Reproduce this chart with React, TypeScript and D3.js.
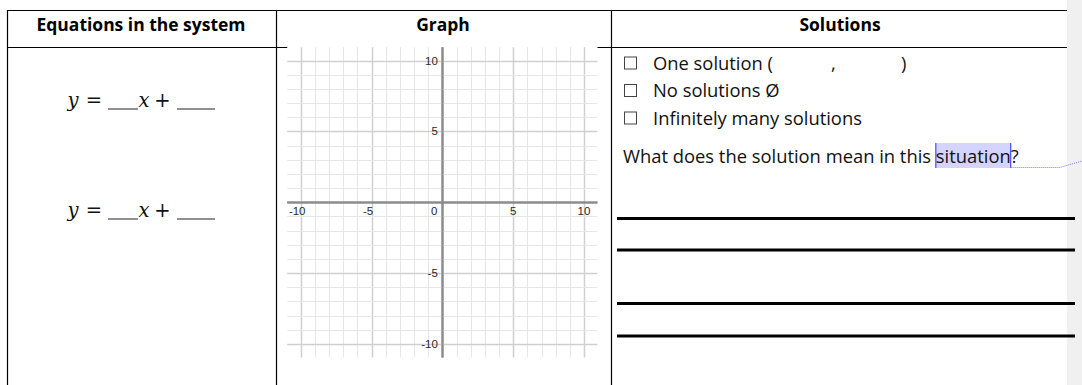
import * as d3 from "d3";
import {useEffect, useRef} from "react";

// table content
const headers = ["Equations in the system", "Graph", "Solutions"];
const equationRows = ["eq1", "eq2"];
const choices = ["One solution (", "No solutions Ø", "Infinitely many solutions"];
const question = "What does the solution mean in this ";
const highlighted = "situation";
const answerLines = [0, 1, 2, 3];

// graph content
const gridValues = d3.range(-10, 11);
const xTickValues = [-10, -5, 0, 5, 10];
const yTickValues = [-10, -5, 5, 10];

const W = 1082, H = 385;
const bodyFont = "'Open Sans', Lato, sans-serif";

const App = () => {
    const ref = useRef<SVGSVGElement | null>(null);

    useEffect(() => {
        const svg = d3.select(ref.current);
        svg.selectAll("*").remove();

        // measure a string so text can be sized to the widths seen in the sheet
        const fitSize = (txt: string, weight: number, target: number) => {
            const t = svg.append("text").attr("font-family", bodyFont)
                .attr("font-weight", weight).attr("font-size", 20).text(txt);
            const w = (t.node() as SVGTextElement).getComputedTextLength();
            t.remove();
            return 20 * target / w;
        };
        const headSize = fitSize(headers[0], 700, 209);
        const bodySize = fitSize(question + highlighted + "?", 400, 396);

        svg.append("rect").attr("width", W).attr("height", H).attr("fill", "#fff");
        // grey page margin on the right
        svg.append("rect").attr("x", 1067).attr("width", W - 1067).attr("height", H).attr("fill", "#f0f0f0");

        // table borders
        const cols = [7.5, 276.5, 611.5];
        svg.selectAll(".hline").data([10.5, 47.5]).enter().append("line")
            .attr("x1", 7).attr("x2", 1067).attr("y1", d => d).attr("y2", d => d)
            .attr("stroke", "#000").attr("stroke-width", 1.2);
        svg.selectAll(".vline").data(cols).enter().append("line")
            .attr("x1", d => d).attr("x2", d => d).attr("y1", 10).attr("y2", H)
            .attr("stroke", "#000").attr("stroke-width", 1.2);

        const headerX = [141, 443, 840];
        svg.selectAll(".hdr").data(headers).enter().append("text")
            .attr("x", (d, i) => headerX[i]).attr("y", 30.5)
            .attr("text-anchor", "middle")
            .attr("font-family", bodyFont)
            .attr("font-weight", 700).attr("font-size", headSize)
            .attr("fill", "#000")
            .text(d => d);

        // equations  y = ___x + ____
        const eqBase = [106.5, 216.5];
        const eqFont = "'DejaVu Serif', 'Liberation Serif', serif";
        equationRows.forEach((r, i) => {
            const g = svg.append("g").attr("transform", `translate(0,${eqBase[i]})`)
                .attr("font-family", eqFont).attr("font-size", 19.5).attr("fill", "#111")
                .attr("text-anchor", "middle");
            g.append("text").attr("x", 73).attr("font-style", "italic").text("y");
            g.append("text").attr("x", 94).text("=");
            g.append("line").attr("x1", 108).attr("x2", 138).attr("y1", 2.5).attr("y2", 2.5)
                .attr("stroke", "#222").attr("stroke-width", 1);
            g.append("text").attr("x", 144).attr("font-style", "italic").text("x");
            g.append("text").attr("x", 162.5).text("+");
            g.append("line").attr("x1", 177).attr("x2", 215).attr("y1", 2.5).attr("y2", 2.5)
                .attr("stroke", "#222").attr("stroke-width", 1);
        });

        // graph picture
        const x = d3.scaleLinear().domain([-10, 10]).range([300.7, 584]);
        const y = d3.scaleLinear().domain([-10, 10]).range([344, 60.6]);
        const ext = 10.95;
        const graph = svg.append("g");
        graph.append("rect")
            .attr("x", x(-ext)).attr("y", y(ext) - 1)
            .attr("width", x(ext) - x(-ext)).attr("height", y(-ext) - y(ext) + 2)
            .attr("fill", "#fff");

        const lineColor = (v: number) => v === 0 ? "#8c8c8c" : v % 5 === 0 ? "#d0d0d0" : "#e6e6e6";
        const lineWidth = (v: number) => v === 0 ? 2 : v % 5 === 0 ? 1.5 : 1;
        const order = [...gridValues].sort((a, b) => (a % 5 === 0 ? 1 : 0) - (b % 5 === 0 ? 1 : 0));

        graph.selectAll(".gx").data(order).enter().append("line")
            .attr("x1", d => Math.round(x(d)) + 0.5).attr("x2", d => Math.round(x(d)) + 0.5)
            .attr("y1", y(ext)).attr("y2", y(-ext))
            .attr("stroke", d => lineColor(d)).attr("stroke-width", d => lineWidth(d));
        graph.selectAll(".gy").data(order).enter().append("line")
            .attr("y1", d => Math.round(y(d)) + 0.5).attr("y2", d => Math.round(y(d)) + 0.5)
            .attr("x1", x(-ext)).attr("x2", x(ext))
            .attr("stroke", d => lineColor(d)).attr("stroke-width", d => lineWidth(d));
        // axes drawn on top
        graph.append("line").attr("x1", Math.round(x(0)) + 0.5).attr("x2", Math.round(x(0)) + 0.5)
            .attr("y1", y(ext)).attr("y2", y(-ext)).attr("stroke", "#8c8c8c").attr("stroke-width", 2);
        graph.append("line").attr("y1", Math.round(y(0)) + 0.5).attr("y2", Math.round(y(0)) + 0.5)
            .attr("x1", x(-ext)).attr("x2", x(ext)).attr("stroke", "#8c8c8c").attr("stroke-width", 2);

        const tickFont = "'Liberation Sans', Arial, sans-serif";
        graph.selectAll(".xt").data(xTickValues).enter().append("text")
            .attr("x", d => d === 0 ? x(0) - 5 : x(d) - (d < 0 ? 3.5 : 0))
            .attr("y", y(0) + 13)
            .attr("text-anchor", d => d === 0 ? "end" : "middle")
            .attr("font-family", tickFont).attr("font-size", 11.5).attr("fill", "#2a2a2a")
            .text(d => d);
        graph.selectAll(".yt").data(yTickValues).enter().append("text")
            .attr("x", x(0) - 4.5).attr("y", d => y(d) + 4)
            .attr("text-anchor", "end")
            .attr("font-family", tickFont).attr("font-size", 11.5).attr("fill", "#2a2a2a")
            .text(d => d);

        // solutions column
        const rowY = [69.5, 97, 124.5];
        svg.selectAll(".box").data(choices).enter().append("rect")
            .attr("x", 624.5).attr("y", (d, i) => rowY[i] - 12.5)
            .attr("width", 12).attr("height", 12)
            .attr("fill", "none").attr("stroke", "#444").attr("stroke-width", 1);
        svg.selectAll(".choice").data(choices).enter().append("text")
            .attr("x", 653).attr("y", (d, i) => rowY[i])
            .attr("font-family", bodyFont).attr("font-size", bodySize).attr("fill", "#111")
            .text(d => d);
        svg.append("text").attr("x", 831).attr("y", rowY[0])
            .attr("font-family", bodyFont).attr("font-size", bodySize).attr("fill", "#111").text(",");
        svg.append("text").attr("x", 901).attr("y", rowY[0])
            .attr("font-family", bodyFont).attr("font-size", bodySize).attr("fill", "#111").text(")");

        // question with highlighted word
        const qY = 162.5;
        const hl = svg.append("g");
        const q = svg.append("text").attr("x", 623).attr("y", qY)
            .attr("font-family", bodyFont).attr("font-size", bodySize).attr("fill", "#111");
        q.append("tspan").text(question);
        q.append("tspan").text(highlighted);
        q.append("tspan").text("?");
        const node = q.node() as SVGTextElement;
        const start = 623 + node.getSubStringLength(0, question.length);
        const end = start + node.getSubStringLength(question.length, highlighted.length);
        hl.append("rect").attr("x", start).attr("y", 143).attr("width", end - start).attr("height", 25)
            .attr("fill", "#d4d4ff");
        hl.selectAll(".mark").data([start, end]).enter().append("line")
            .attr("x1", d => d).attr("x2", d => d).attr("y1", 143).attr("y2", 168)
            .attr("stroke", "#4a4aff").attr("stroke-width", 1.2);
        svg.append("polyline")
            .attr("points", `${end},167.5 1060,167.5 1082,161`)
            .attr("fill", "none").attr("stroke", "#7c7cff").attr("stroke-width", 1)
            .attr("stroke-dasharray", "1,1");

        // answer lines
        const lineY = [218.5, 250, 303.5, 336];
        svg.selectAll(".ans").data(answerLines).enter().append("line")
            .attr("x1", 617).attr("x2", 1075)
            .attr("y1", d => lineY[d]).attr("y2", d => lineY[d])
            .attr("stroke", "#000").attr("stroke-width", 3);
    }, []);

    return (
        <svg ref={ref} width={W} height={H}
             style={{position: "absolute", left: 0, top: 0, display: "block"}}/>
    );
};

export default App;
